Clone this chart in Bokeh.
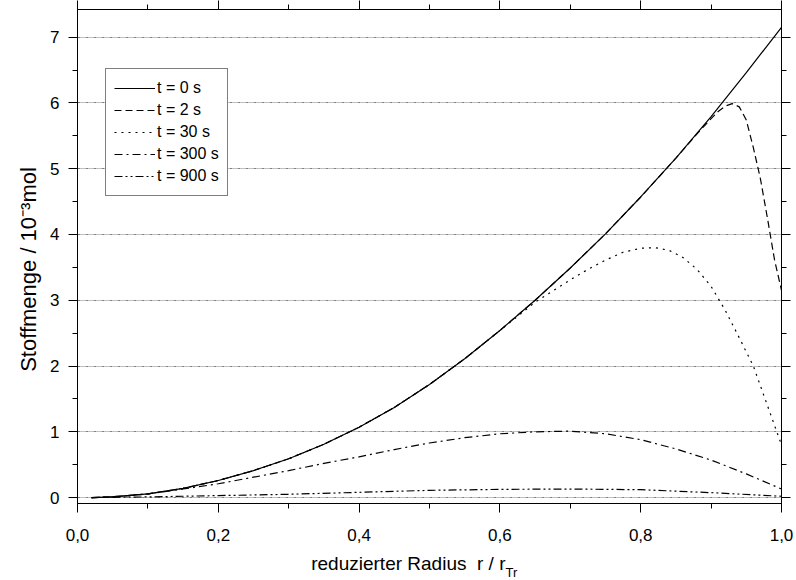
import math
from bokeh.plotting import figure
from bokeh.models import Range1d, LinearAxis, FixedTicker, CustomJSTickFormatter, Label
from bokeh.embed import file_html
from bokeh.resources import INLINE

# ---------------- data ----------------
r_t0 = [0.02, 0.05, 0.1, 0.15, 0.2, 0.25, 0.3, 0.35, 0.4, 0.45, 0.5, 0.55, 0.6, 0.65, 0.7,
        0.75, 0.8, 0.85, 0.9, 0.95, 1.0]
n_t0 = [0.0, 0.012, 0.055, 0.14, 0.26, 0.41, 0.59, 0.81, 1.07, 1.37, 1.72, 2.11, 2.54, 3.0, 3.49,
        4.01, 4.57, 5.16, 5.79, 6.46, 7.15]

r_t2 = [0.02, 0.05, 0.1, 0.15, 0.2, 0.25, 0.3, 0.35, 0.4, 0.45, 0.5, 0.55, 0.6, 0.65, 0.7,
        0.75, 0.8, 0.85, 0.88, 0.9, 0.91, 0.92, 0.93, 0.94, 0.95, 0.96, 0.97, 0.98, 0.99, 1.0]
n_t2 = [0.0, 0.012, 0.055, 0.14, 0.26, 0.41, 0.59, 0.81, 1.07, 1.37, 1.72, 2.11, 2.54, 3.0, 3.49,
        4.01, 4.57, 5.16, 5.53, 5.76, 5.87, 5.95, 5.99, 5.94, 5.74, 5.32, 4.85, 4.25, 3.62, 3.15]

r_t30 = [0.02, 0.05, 0.1, 0.15, 0.2, 0.25, 0.3, 0.35, 0.4, 0.45, 0.5, 0.55, 0.6, 0.65, 0.675,
         0.7, 0.725, 0.75, 0.775, 0.8, 0.82, 0.84, 0.86, 0.88, 0.9, 0.92, 0.94, 0.96, 0.97,
         0.98, 0.99, 1.0]
n_t30 = [0.0, 0.012, 0.055, 0.14, 0.26, 0.41, 0.59, 0.81, 1.07, 1.37, 1.72, 2.11, 2.54, 2.97, 3.14,
         3.31, 3.47, 3.61, 3.73, 3.79, 3.8, 3.76, 3.65, 3.47, 3.21, 2.85, 2.43, 2.0, 1.7,
         1.4, 1.1, 0.8]

r_t300 = [0.02, 0.05, 0.1, 0.15, 0.2, 0.25, 0.3, 0.35, 0.4, 0.45, 0.5, 0.55, 0.6, 0.65, 0.7,
          0.75, 0.8, 0.85, 0.9, 0.95, 1.0]
n_t300 = [0.0, 0.012, 0.055, 0.13, 0.21, 0.31, 0.41, 0.52, 0.62, 0.73, 0.83, 0.91, 0.97, 1.0, 1.01,
          0.97, 0.88, 0.74, 0.57, 0.36, 0.13]

r_t900 = [0.02, 0.1, 0.2, 0.3, 0.4, 0.5, 0.6, 0.7, 0.8, 0.9, 1.0]
n_t900 = [0.0, 0.01, 0.03, 0.05, 0.08, 0.11, 0.125, 0.13, 0.12, 0.075, 0.02]

series_labels = ["t = 0 s", "t = 2 s", "t = 30 s", "t = 300 s", "t = 900 s"]

x_major = [0.0, 0.2, 0.4, 0.6, 0.8, 1.0]
x_minor = [0.1, 0.3, 0.5, 0.7, 0.9]
y_major = [0, 1, 2, 3, 4, 5, 6, 7]
y_minor = [0.5, 1.5, 2.5, 3.5, 4.5, 5.5, 6.5]

x_title = "reduzierter Radius \u00a0r / r"
x_title_sub = "Tr"
y_title = "Stoffmenge / 10\u207b\u00b3mol"

# ---------------- figure ----------------
FONT = "Liberation Sans"
X0, X1 = 0.0, 1.0
Y0, Y1 = -0.09, 7.42

p = figure(width=796, height=580, output_backend="svg", toolbar_location=None,
           x_range=Range1d(X0, X1), y_range=Range1d(Y0, Y1),
           min_border_left=77, min_border_right=15, min_border_top=7, min_border_bottom=77)
p.background_fill_color = "white"
p.border_fill_color = "white"
p.outline_line_color = "black"
p.outline_line_width = 1

styles = [
    dict(line_dash="solid"),
    dict(line_dash="7 4"),
    dict(line_dash="2 5"),
    dict(line_dash="8 4 2 4"),
    dict(line_dash="8 3 2 3 2 3"),
]
data = [(r_t0, n_t0), (r_t2, n_t2), (r_t30, n_t30), (r_t300, n_t300), (r_t900, n_t900)]
for (xs, ys), st, lab in zip(data, styles, series_labels):
    p.line(xs, ys, line_color="black", line_width=1.2, legend_label=lab, **st)

def style_axis(ax, ticks, minor, labels=True, fmt=None, standoff=8):
    ax.ticker = FixedTicker(ticks=ticks, minor_ticks=minor)
    ax.axis_line_color = "black"
    ax.axis_line_width = 1
    ax.major_tick_line_color = "black"
    ax.minor_tick_line_color = "black"
    ax.major_tick_in = 0
    ax.major_tick_out = 9
    ax.minor_tick_in = 0
    ax.minor_tick_out = 5
    ax.major_label_text_font = FONT
    ax.major_label_text_color = "black"
    if labels:
        ax.major_label_text_font_size = "17px"
        ax.major_label_standoff = standoff
        if fmt is not None:
            ax.formatter = fmt
    else:
        ax.major_label_text_font_size = "1px"
        ax.major_label_standoff = 0
        ax.formatter = CustomJSTickFormatter(code="return '';")

xfmt = CustomJSTickFormatter(code="return tick.toFixed(1).replace('.', ',');")
style_axis(p.xaxis[0], x_major, x_minor, True, xfmt, standoff=16)
style_axis(p.yaxis[0], y_major, y_minor, True, standoff=9)

top_ax = LinearAxis()
style_axis(top_ax, x_major, x_minor, False)
p.add_layout(top_ax, "above")
right_ax = LinearAxis()
style_axis(right_ax, y_major, y_minor, False)
p.add_layout(right_ax, "right")

p.xgrid.visible = False
p.ygrid.ticker = FixedTicker(ticks=y_major)
p.ygrid.grid_line_color = "#808080"
p.ygrid.grid_line_width = 1
p.ygrid.grid_line_dash = "3 1 1 1 1 1"

# legend
lg = p.legend[0]
lg.location = (28, 307)
lg.border_line_color = "black"
lg.border_line_width = 1
lg.background_fill_color = "white"
lg.background_fill_alpha = 1
lg.padding = 8
lg.margin = 0
lg.spacing = 0
lg.glyph_width = 41
lg.glyph_height = 22
lg.label_height = 22
lg.label_standoff = 2
lg.label_text_font = FONT
lg.label_text_font_size = "16px"
lg.label_text_color = "black"

# axis titles, canvas pixel positions, placed in side panels (not clipped to the frame)
def lab(x, y, text, size, align, angle=0.0):
    return Label(x=x, y=y, x_units="canvas", y_units="canvas", text=text, angle=angle,
                 text_align=align, text_baseline="middle", text_font=FONT,
                 text_font_size=size, text_color="black")

p.add_layout(lab(505, 563, x_title, "19px", "right"), "below")
p.add_layout(lab(505, 572, x_title_sub, "13px", "left"), "left")
p.add_layout(lab(28, 269, y_title, "22px", "center", math.pi / 2), "left")

open("out.html", "w").write(file_html(p, INLINE))
